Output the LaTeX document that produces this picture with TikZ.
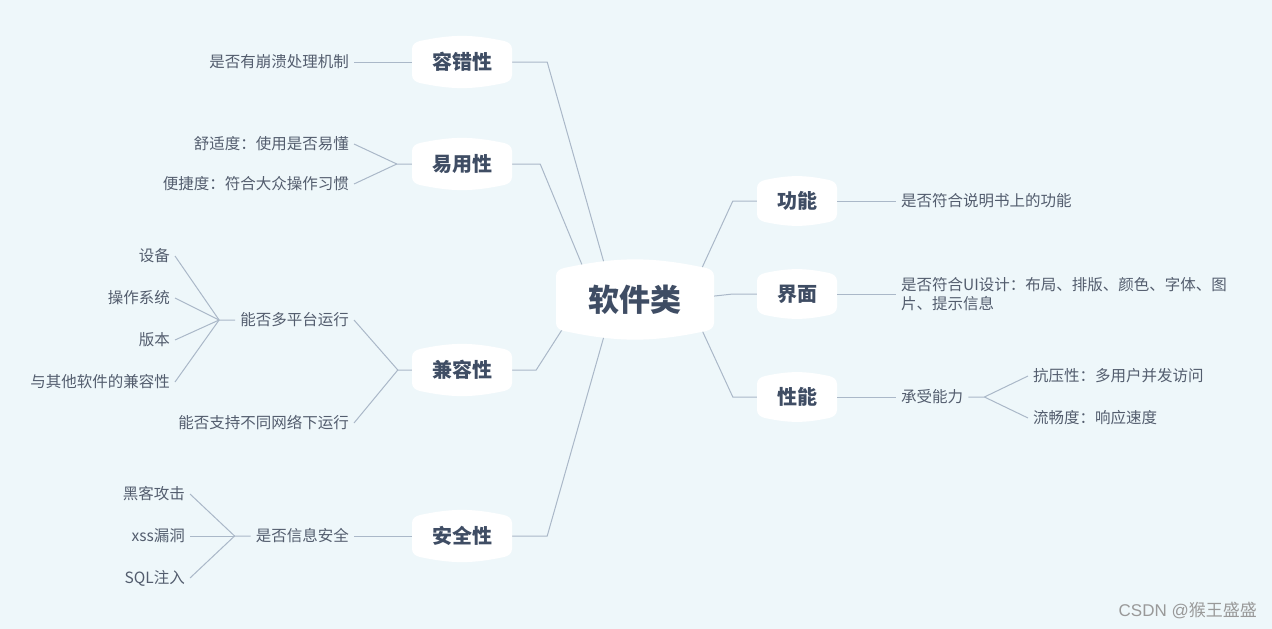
\documentclass[tikz,border=0pt]{standalone}
\usepackage{fontspec}
\setmainfont{Noto Sans CJK SC}
\newfontfamily\marklatin{Liberation Sans}
\usetikzlibrary{calc}
\pgfdeclarelayer{background}
\pgfsetlayers{background,main}
\definecolor{bgc}{HTML}{EEF7FA}
\definecolor{linec}{HTML}{AAB8C8}
\definecolor{topicc}{HTML}{3F4D64}
\definecolor{leafc}{HTML}{535D6E}
\tikzset{
% white blob behind the centre and the topics, #1 = drop of its corners
blob/.style={inner sep=0pt,path picture={
  \fill[white] ([yshift={-#1-8pt}]path picture bounding box.north west)
    to[out=90,in=-168] ([xshift=8pt,yshift=-#1]path picture bounding box.north west)
    to[out=12,in=168] ([xshift=-8pt,yshift=-#1]path picture bounding box.north east)
    to[out=-12,in=90] ([yshift={-#1-8pt}]path picture bounding box.north east)
    -- ([yshift={#1+8pt}]path picture bounding box.south east)
    to[out=-90,in=12] ([xshift=-8pt,yshift=#1]path picture bounding box.south east)
    to[out=192,in=-12] ([xshift=8pt,yshift=#1]path picture bounding box.south west)
    to[out=168,in=-90] ([yshift={#1+8pt}]path picture bounding box.south west)
    -- cycle;}},
root node/.style={blob=9pt,minimum width=158pt,minimum height=81pt,text=topicc,font=\fontsize{31}{36}\selectfont\bfseries},
topic node/.style={blob=6pt,minimum width=100pt,minimum height=54pt,text=topicc,font=\fontsize{20}{24}\selectfont\bfseries},
leaf node/.style={inner xsep=5pt,inner ysep=2pt,text=leafc,font=\fontsize{15.5}{19}\selectfont},
link/.style={draw=linec,line width=1pt}
}

\begin{document}
\begin{tikzpicture}[x=1pt,y=-1pt]
\useasboundingbox (0,0) rectangle (1272,629);
\begin{pgfonlayer}{background}
\fill[bgc] (0,0) rectangle (1272,629);
\end{pgfonlayer}

% centre and topics
\node[root node] (root) at (635,299.5) {软件类};
\node[topic node] (rc) at (462,62) {容错性};
\node[topic node] (yy) at (462,164) {易用性};
\node[topic node] (jr) at (462,370) {兼容性};
\node[topic node] (aq) at (462,536) {安全性};
\node[topic node,minimum width=80pt] (gn) at (797,201) {功能};
\node[topic node,minimum width=80pt] (jm) at (797,294) {界面};
\node[topic node,minimum width=80pt] (xn) at (797,397) {性能};

% leaves, left side
\node[leaf node,anchor=east] (rc1) at (354,62) {是否有崩溃处理机制};
\node[leaf node,anchor=east] (yy1) at (354,144) {舒适度：使用是否易懂};
\node[leaf node,anchor=east] (yy2) at (354,184) {便捷度：符合大众操作习惯};
\node[leaf node,anchor=east] (jr1) at (354,320) {能否多平台运行};
\node[leaf node,anchor=east] (jr2) at (354,423) {能否支持不同网络下运行};
\node[leaf node,anchor=east] (jr1a) at (175,256) {设备};
\node[leaf node,anchor=east] (jr1b) at (175,298) {操作系统};
\node[leaf node,anchor=east] (jr1c) at (175,340) {版本};
\node[leaf node,anchor=east] (jr1d) at (175,382) {与其他软件的兼容性};
\node[leaf node,anchor=east] (aq1) at (354,536) {是否信息安全};
\node[leaf node,anchor=east] (aq1a) at (190,494) {黑客攻击};
\node[leaf node,anchor=east] (aq1b) at (190,536) {xss漏洞};
\node[leaf node,anchor=east] (aq1c) at (190,578) {SQL注入};

% leaves, right side
\node[leaf node,anchor=west] (gn1) at (896,201) {是否符合说明书上的功能};
\node[leaf node,anchor=west,align=left] (jm1) at (896,294) {是否符合UI设计：布局、排版、颜色、字体、图\\片、提示信息};
\node[leaf node,anchor=west] (xn1) at (896,397) {承受能力};
\node[leaf node,anchor=west] (xn1a) at (1028,376) {抗压性：多用户并发访问};
\node[leaf node,anchor=west] (xn1b) at (1028,418) {流畅度：响应速度};

\node[text=black!40,font=\fontsize{17}{20}\selectfont,anchor=east,inner sep=0pt] (mark) at (1257,611) {{\marklatin CSDN @}猴王盛盛};

% connectors
\begin{pgfonlayer}{background}
\draw[link] (rc.east) -- ++(35,0) -- ([xshift=-31pt,yshift=-4pt]root.north);
\draw[link] (yy.east) -- ++(28,0) -- ([xshift=-53pt,yshift=-6pt]root.north);
\draw[link] (jr.east) -- ++(24,0) -- ([xshift=-72pt,yshift=12pt]root.south);
\draw[link] (aq.east) -- ++(35,0) -- ([xshift=-31pt,yshift=4pt]root.south);
\draw[link] (gn.west) -- ++(-24,0) -- ([xshift=67pt,yshift=-9pt]root.north);
\draw[link] (jm.west) -- ++(-24,0) -- ([xshift=-4pt,yshift=3pt]root.east);
\draw[link] (xn.west) -- ++(-24,0) -- ([xshift=67pt,yshift=10pt]root.south);
\end{pgfonlayer}
\draw[link] (rc1.east) -- (rc.west);
\draw[link] (yy1.east) -- ([xshift=-15pt]yy.west) -- (yy.west);
\draw[link] (yy2.east) -- ([xshift=-15pt]yy.west);
\draw[link] (jr1.east) -- ([xshift=-14pt]jr.west) -- (jr.west);
\draw[link] (jr2.east) -- ([xshift=-14pt]jr.west);
\draw[link] (jr1a.east) -- ([xshift=-16pt]jr1.west) -- (jr1.west);
\draw[link] (jr1b.east) -- ([xshift=-16pt]jr1.west);
\draw[link] (jr1c.east) -- ([xshift=-16pt]jr1.west);
\draw[link] (jr1d.east) -- ([xshift=-16pt]jr1.west);
\draw[link] (aq1.east) -- (aq.west);
\draw[link] (aq1a.east) -- ([xshift=-16pt]aq1.west) -- (aq1.west);
\draw[link] (aq1b.east) -- ([xshift=-16pt]aq1.west);
\draw[link] (aq1c.east) -- ([xshift=-16pt]aq1.west);
\draw[link] (gn.east) -- (gn1.west);
\draw[link] (jm.east) -- (jm1.west);
\draw[link] (xn.east) -- (xn1.west);
\draw[link] (xn1.east) -- ([xshift=16pt]xn1.east) -- (xn1a.west);
\draw[link] ([xshift=16pt]xn1.east) -- (xn1b.west);
\end{tikzpicture}
\end{document}
